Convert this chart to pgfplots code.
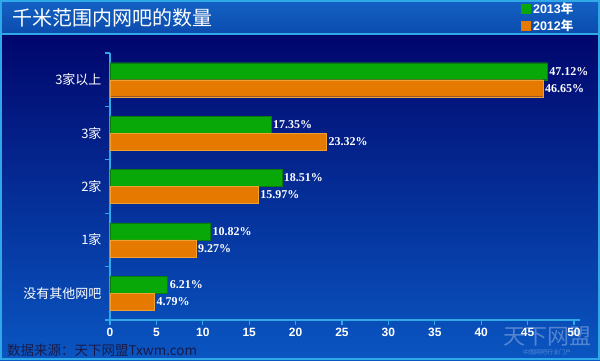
\documentclass[border=0pt]{standalone}
\usepackage{fontspec}
\setmainfont{Liberation Serif}
\setsansfont{Liberation Sans}
\newfontfamily\cjk{Noto Sans CJK SC}
\usepackage{pgfplots}
\pgfplotsset{compat=1.18}
\usetikzlibrary{backgrounds,calc}
\definecolor{bgtop}{HTML}{00066C}
\definecolor{bgbot}{HTML}{0A56C2}
\definecolor{titletop}{HTML}{1462C4}
\definecolor{titlebot}{HTML}{0A4CAE}
\definecolor{cyanline}{HTML}{2EA8E6}
\definecolor{green13}{HTML}{08A808}
\definecolor{greenedge}{HTML}{0A7A0A}
\definecolor{orange12}{HTML}{E67A00}
\definecolor{orangeedge}{HTML}{F0A030}
\definecolor{footc}{HTML}{1A1A48}
\begin{document}
\begin{tikzpicture}[x=1pt,y=1pt]
\begin{axis}[
  scale only axis, width=464pt, height=267pt,
  xmin=0, xmax=50, ymin=-0.5, ymax=4.5,
  xbar, bar width=17pt,
  axis x line=bottom, axis y line=left,
  axis line style={cyanline, line width=1.5pt, -},
  x axis line style={shorten <=-5pt, shorten >=-6pt},
  tick style={cyanline, line width=1.2pt},
  tick align=outside, major tick length=5pt,
  xtick={0,5,...,50},
  /pgf/number format/assume math mode=true,
  xticklabel style={font=\sffamily\bfseries\fontsize{12}{12}\selectfont, text=white},
  ytick={-0.5,0.5,...,4.5}, yticklabels={},
  extra y ticks={0,1,2,3,4},
  extra y tick labels={没有其他网吧,1家,2家,3家,3家以上},
  extra y tick style={major tick length=0pt,
    yticklabel style={font=\cjk\fontsize{13}{13}\selectfont, text=white, xshift=-5pt}},
  point meta=x,
  nodes near coords={\pgfmathprintnumber[fixed,fixed zerofill,precision=2]{\pgfplotspointmeta}\%},
  every node near coord/.append style={font=\bfseries\fontsize{12}{12}\selectfont, text=white, anchor=west, inner sep=2pt},
  legend image code/.code={\fill[#1,draw=none] (0pt,-5pt) rectangle (10pt,5pt);},
  legend style={at={(0.879,1.203)}, anchor=north west, draw=none, fill=none,
    text=white, font=\sffamily\bfseries\fontsize{12.5}{12.5}\selectfont,
    row sep=1pt, legend cell align=left},
]
\addplot[fill=green13, draw=greenedge, bar shift=8.5pt] coordinates {(6.21,0) (10.82,1) (18.51,2) (17.35,3) (47.12,4)};
\addplot[fill=orange12, draw=orangeedge, bar shift=-8.5pt] coordinates {(4.79,0) (9.27,1) (15.97,2) (23.32,3) (46.65,4)};
\legend{2013{\cjk 年},2012{\cjk 年}}
\coordinate (O) at (rel axis cs:0,0);
\end{axis}
\begin{scope}[on background layer, shift={($(O)+(-110pt,-40pt)$)}]
\shade[top color=bgtop, bottom color=bgbot] (0,0) rectangle (600,326);
\shade[top color=titletop, bottom color=titlebot] (0,326) rectangle (600,360);
\draw[cyanline, line width=2pt] (0,326) -- (600,326);
\draw[cyanline, line width=2pt] (1,1) rectangle (599,359);
\node[anchor=west, text=white, font=\cjk\fontsize{20}{20}\selectfont, inner sep=0pt] at (12,342) {千米范围内网吧的数量};
\node[anchor=west, text=footc, font=\cjk\fontsize{13.5}{14}\selectfont, inner sep=0pt] at (7,10) {数据来源：天下网盟Txwm.com};
\node[text=white, opacity=0.3, font=\cjk\fontsize{22}{22}\selectfont, inner sep=0pt] at (547,24) {天下网盟};
\node[text=white, opacity=0.3, font=\cjk\fontsize{6}{6}\selectfont, inner sep=0pt] at (547,8) {中国网吧行业门户};
\end{scope}
\pgfresetboundingbox
\path[use as bounding box, shift={($(O)+(-110pt,-40pt)$)}] (0,0) rectangle (600,360);
\end{tikzpicture}
\end{document}
